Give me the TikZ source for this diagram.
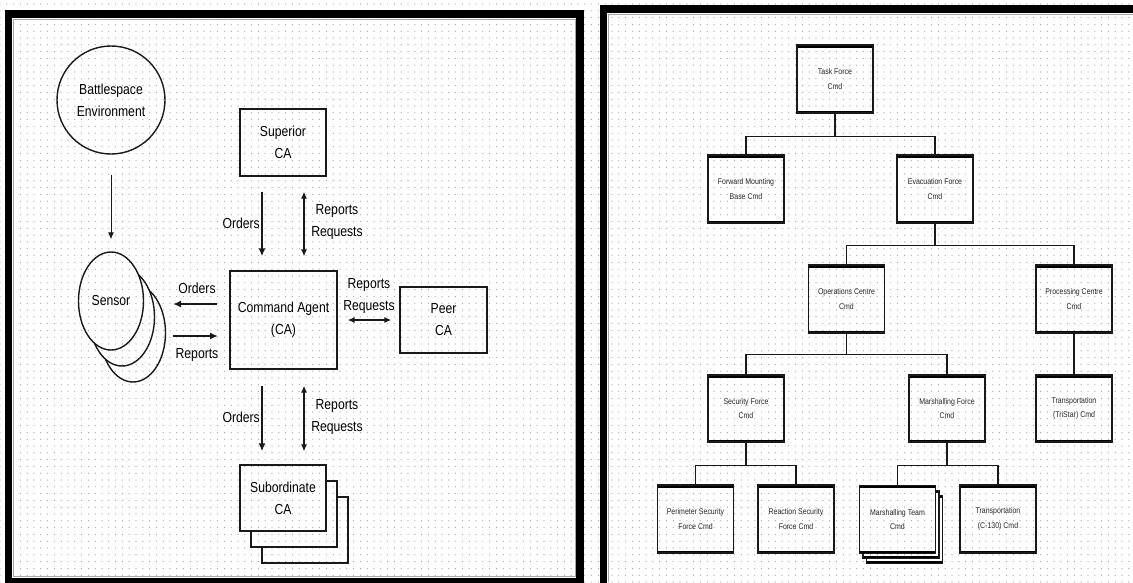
\documentclass[tikz,border=0pt]{standalone}
\usepackage{fontspec}
\newfontfamily\diagfont{Liberation Sans}[FakeStretch=0.84]
\usetikzlibrary{arrows.meta,shapes.geometric,patterns.meta}
\begin{document}
\begin{tikzpicture}[x=1pt,y=-1pt,
  dots/.style={pattern={Dots[distance=6.8pt,radius=0.6pt]},pattern color=black!40},
  dotfill/.style={preaction={fill=white},dots},
  big/.style={font=\diagfont\fontsize{14.5}{22}\selectfont, text=black, align=center, inner sep=0pt},
  cabox/.style={big, draw=black!90, line width=1.3pt, dotfill},
  sens/.style={big, ellipse, draw=black!90, line width=1.4pt, dotfill, minimum width=65pt, minimum height=98pt},
  orgbox/.style={draw=black!90, line width=1.3pt, dotfill, minimum width=76pt, minimum height=68pt,
    inner sep=0pt, align=center, text=black!85, font=\diagfont\fontsize{8.3}{14.5}\selectfont,
    path picture={
      \fill[black] (path picture bounding box.north west) rectangle ([yshift=-2.6pt]path picture bounding box.north east);
      \fill[black] (path picture bounding box.south west) rectangle ([yshift=2.2pt]path picture bounding box.south east);
      \fill[black] (path picture bounding box.north east) rectangle ([xshift=-0.8pt]path picture bounding box.south east);
    }},
  tree/.style={draw=black!90, line width=1.3pt},
  ordarr/.style={draw=black!90, line width=1.8pt, -{Latex[length=8pt,width=7pt]}},
  dblarr/.style={draw=black!90, line width=1.3pt, {Latex[length=7pt,width=6pt]}-{Latex[length=7pt,width=6pt]}},
  thinarr/.style={draw=black!90, line width=0.9pt, -{Latex[length=7pt,width=6pt]}},
  frame/.style={draw=black, line width=7.5pt}
]
\useasboundingbox (0,0) rectangle (1133,582);
\clip (0,0) rectangle (1133,582);
\fill[white] (0,0) rectangle (1133,582);
\fill[dots] (0,0) rectangle (1133,582);

% panel frames
\draw[frame] (8.5,14) rectangle (580,582);
\draw[black!35, line width=0.8pt] (13.5,19.5) rectangle (575.5,576.5);
\draw[frame] (603.5,9) rectangle (1145,600);
\draw[black!35, line width=0.8pt] (608.5,14) -- (1133,14);
\draw[black!35, line width=0.8pt] (608.5,14) -- (608.5,582);

% ---------------- left panel ----------------
\node[big, circle, draw=black!90, line width=1.4pt, dotfill, minimum size=108pt] (bs) at (111,100) {Battlespace\\Environment};

\node[sens] (s3) at (133,333) {};
\node[sens] (s2) at (122,317) {};
\node[sens] (s1) at (111,301) {Sensor};

\node[cabox, minimum width=86pt, minimum height=67pt] (sup) at (283,142.5) {Superior\\CA};
\node[cabox, minimum width=107pt, minimum height=98pt] (ca) at (283.5,320) {Command Agent\\(CA)};
\node[cabox, minimum width=87pt, minimum height=66pt] (peer) at (443.5,320) {Peer\\CA};

\node[cabox, minimum width=86pt, minimum height=66pt] (sub3) at (305,530) {};
\node[cabox, minimum width=86pt, minimum height=66pt] (sub2) at (294,514) {};
\node[cabox, minimum width=86pt, minimum height=66pt] (sub1) at (283,498) {Subordinate\\CA};

\draw[thinarr, shorten <=20pt, shorten >=12pt] (bs.south) -- (s1.north);

\draw[ordarr, shorten <=15pt, shorten >=14pt] ([xshift=-21pt]sup.south) -- ([xshift=-21.5pt]ca.north);
\draw[dblarr, shorten <=15pt, shorten >=14pt] ([xshift=21pt]sup.south) -- ([xshift=20.5pt]ca.north);
\node[big, anchor=east] (o1) at (260,223) {Orders};
\node[big] (r1) at (337,222.5) {Reports\\Requests};

\draw[ordarr, shorten <=16pt, shorten >=13pt] ([xshift=-21.5pt]ca.south) -- ([xshift=-21pt]sub1.north);
\draw[dblarr, shorten <=16pt, shorten >=13pt] ([xshift=20.5pt]ca.south) -- ([xshift=21pt]sub1.north);
\node[big, anchor=east] (o2) at (260,417) {Orders};
\node[big] (r2) at (337,417) {Reports\\Requests};

\draw[dblarr, shorten <=10pt, shorten >=8pt] (ca.east) -- (peer.west);
\node[big] (r3) at (369,296) {Reports\\Requests};

\coordinate (so1) at (217,304);
\coordinate (so2) at (173,304);
\coordinate (sr1) at (173,336);
\coordinate (sr2) at (218,336);
\draw[ordarr] (so1) -- (so2);
\draw[ordarr] (sr1) -- (sr2);
\node[big] (o3) at (197,288) {Orders};
\node[big] (r4) at (197,355) {Reports};

% ---------------- right panel ----------------
\node[orgbox] (tf) at (835,79) {Task Force\\Cmd};
\node[orgbox] (fmb) at (746,189) {Forward Mounting\\Base Cmd};
\node[orgbox] (evac) at (935,189) {Evacuation Force\\Cmd};
\node[orgbox] (ops) at (846.5,299) {Operations Centre\\Cmd};
\node[orgbox] (proc) at (1074,299) {Processing Centre\\Cmd};
\node[orgbox, minimum height=67pt] (sec) at (746,408.5) {Security Force\\Cmd};
\node[orgbox, minimum height=67pt] (mar) at (947,408.5) {Marshalling Force\\Cmd};
\node[orgbox, minimum height=67pt] (tri) at (1074,408.5) {Transportation\\(TriStar) Cmd};
\node[orgbox] (per) at (695.5,519) {Perimeter Security\\Force Cmd};
\node[orgbox] (rea) at (796,519) {Reaction Security\\Force Cmd};
\node[orgbox] (mt3) at (904.5,529.5) {};
\node[orgbox] (mt2) at (901,524.5) {};
\node[orgbox] (mt) at (897.5,519.5) {Marshalling Team\\Cmd};
\node[orgbox] (c130) at (998,519) {Transportation\\(C-130) Cmd};

\draw[tree] (tf.south) -- ++(0,23) -| (fmb.north);
\draw[tree] (tf.south) -- ++(0,23) -| (evac.north);
\draw[tree] (evac.south) -- ++(0,22) -| (ops.north);
\draw[tree] (evac.south) -- ++(0,22) -| (proc.north);
\draw[tree] (ops.south) -- ++(0,21) -| (sec.north);
\draw[tree] (ops.south) -- ++(0,21) -| (mar.north);
\draw[tree] (proc.south) -- (tri.north);
\draw[tree] (sec.south) -- ++(0,23) -| (per.north);
\draw[tree] (sec.south) -- ++(0,23) -| (rea.north);
\draw[tree] (mar.south) -- ++(0,23) -| (mt.north);
\draw[tree] (mar.south) -- ++(0,23) -| (c130.north);
\end{tikzpicture}
\end{document}
